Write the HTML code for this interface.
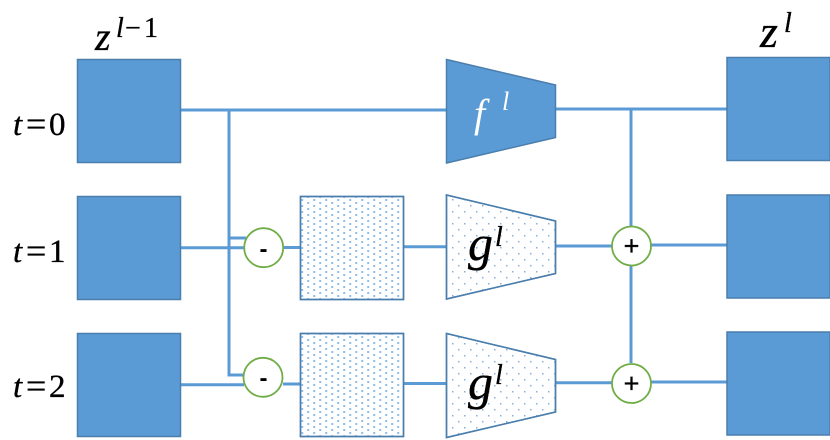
<!DOCTYPE html>
<html>
<head>
<meta charset="utf-8">
<style>
html,body{margin:0;padding:0;background:#fff;width:830px;height:440px;overflow:hidden}
svg{display:block}
text{font-family:"Liberation Serif",serif;fill:#000}
.i{font-style:italic}
.s{font-family:"Liberation Sans",sans-serif}
.b{stroke:#000;stroke-width:.35}
</style>
</head>
<body>
<svg width="830" height="440" viewBox="0 0 830 440" xmlns="http://www.w3.org/2000/svg">
<defs>
<pattern id="d1" width="12" height="6" patternUnits="userSpaceOnUse" x="307.2" y="202">
<rect x="0" y="0" width="2" height="2" fill="#8fbce8"/>
<rect x="6" y="3" width="2" height="2" fill="#8fbce8"/>
</pattern>
<pattern id="d1b" width="12" height="6" patternUnits="userSpaceOnUse" x="307.2" y="339">
<rect x="0" y="0" width="2" height="2" fill="#8fbce8"/>
<rect x="6" y="3" width="2" height="2" fill="#8fbce8"/>
</pattern>
<pattern id="d2" width="12" height="12" patternUnits="userSpaceOnUse" x="458" y="205">
<rect x="0" y="0" width="1.5" height="1.5" fill="#86b0da"/>
<rect x="6" y="6" width="1.5" height="1.5" fill="#86b0da"/>
</pattern>
</defs>

<g fill="none" stroke="#5b9bd5" stroke-width="3">
<path d="M180 110H446"/>
<path d="M555 109H727"/>
<path d="M229 110V238H246"/>
<path d="M229 238V375H246"/>
<path d="M631 109V363"/>
<path d="M180 247.7H244"/>
<path d="M283 247.5H300"/>
<path d="M403 246.7H446"/>
<path d="M555 246H612"/>
<path d="M651 245H727"/>
<path d="M180 384.7H244"/>
<path d="M283 384H300"/>
<path d="M403 383.5H446"/>
<path d="M555 382.7H612"/>
<path d="M651 382H727"/>
</g>

<g fill="#5b9bd5" stroke="#4a7ead" stroke-width="1.5">
<rect x="77.5" y="59.5" width="103" height="103"/>
<rect x="77.5" y="196.5" width="103" height="103"/>
<rect x="77.5" y="333.5" width="103" height="103"/>
<rect x="727" y="57.5" width="103" height="103"/>
<rect x="727" y="195" width="103" height="103"/>
<rect x="727" y="332" width="103" height="103"/>
<polygon points="446.5,59.5 555.5,85 555.5,137.5 446.5,163"/>
</g>

<g stroke="#4a7ead" stroke-width="1.5">
<rect x="300.5" y="196.5" width="103" height="103" fill="#fff"/>
<rect x="300.5" y="333.5" width="103" height="103" fill="#fff"/>
<rect x="300.5" y="196.5" width="103" height="103" fill="url(#d1)"/>
<rect x="300.5" y="333.5" width="103" height="103" fill="url(#d1b)"/>
<polygon points="446.5,195 555.5,221 555.5,273.5 446.5,299" fill="#fff"/>
<polygon points="446.5,195 555.5,221 555.5,273.5 446.5,299" fill="url(#d2)"/>
<polygon points="446.5,333.5 555.5,359.5 555.5,412 446.5,437.5" fill="#fff"/>
<polygon points="446.5,333.5 555.5,359.5 555.5,412 446.5,437.5" fill="url(#d2)"/>
</g>

<g fill="#fff" stroke="#70ad47" stroke-width="1.8">
<circle cx="263.7" cy="247.7" r="19.5"/>
<circle cx="263" cy="377.3" r="19.5"/>
<circle cx="631.5" cy="246" r="19.5"/>
<circle cx="631.5" cy="383.5" r="19.5"/>
</g>
<text x="263.5" y="257" font-size="24" font-weight="bold" text-anchor="middle" class="s">-</text>
<text x="263.5" y="386" font-size="24" font-weight="bold" text-anchor="middle" class="s">-</text>
<text x="631.5" y="255" font-size="27" text-anchor="middle" class="s b">+</text>
<text x="631.5" y="392.5" font-size="27" text-anchor="middle" class="s b">+</text>

<text x="95" y="50" font-size="40" class="i b">z</text>
<text x="116" y="37" font-size="28" class="i b">l</text>
<text x="125" y="37" font-size="28" class="b">−</text>
<text x="144" y="37" font-size="28" class="b">1</text>
<text x="760" y="47" font-size="46" class="i b">z</text>
<text x="784" y="32" font-size="28" class="i b">l</text>

<text x="13" y="135" font-size="33" class="i b">t</text><text x="26" y="136" font-size="36" class="b">=</text><text x="49" y="135" font-size="33" class="b">0</text>
<text x="13" y="262" font-size="33" class="i b">t</text><text x="26" y="263" font-size="36" class="b">=</text><text x="49" y="262" font-size="33" class="b">1</text>
<text x="13" y="397" font-size="33" class="i b">t</text><text x="26" y="398" font-size="36" class="b">=</text><text x="49" y="397" font-size="33" class="b">2</text>

<text x="474" y="127" font-size="40" class="i" style="fill:#fff">f</text>
<text x="502" y="110" font-size="26" class="i" style="fill:#fff">l</text>
<text x="468" y="260" font-size="50" class="i b">g</text>
<text x="495" y="246" font-size="28" class="i b">l</text>
<text x="468" y="399" font-size="50" class="i b">g</text>
<text x="495" y="384" font-size="28" class="i b">l</text>
</svg>
</body>
</html>
